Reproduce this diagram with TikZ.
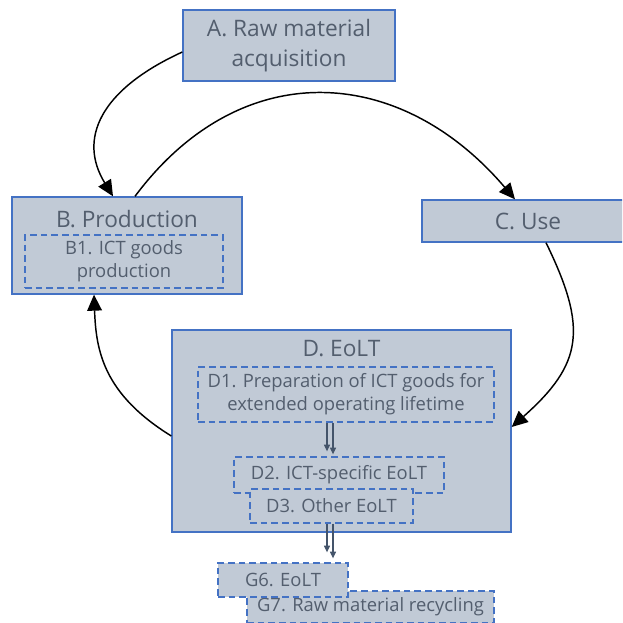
\documentclass[tikz,border=0pt]{standalone}
\usepackage{fontspec}
\setmainfont{Open Sans}
\usepackage{xcolor}
\definecolor{boxfill}{HTML}{C1CAD6}
\definecolor{boxline}{HTML}{4472C4}
\definecolor{txtgray}{HTML}{535E6E}
\definecolor{slate}{HTML}{44546A}
\usepackage{tikz}
\usetikzlibrary{arrows.meta, calc}
\tikzset{
    stage/.style = {rectangle, draw=boxline, fill=boxfill, line width=1pt,
                    inner sep=0pt, text=txtgray, align=center,
                    font=\fontsize{17}{22.5}\selectfont},
    substage/.style = {rectangle, draw=boxline, fill=boxfill, line width=1pt,
                       dash pattern=on 5pt off 3pt, inner sep=0pt, text=txtgray,
                       align=center, font=\fontsize{13.8}{17.5}\selectfont},
    heading/.style = {inner sep=0pt, text=txtgray,
                      font=\fontsize{17}{22.5}\selectfont},
    arrow/.style = {-{Triangle[length=12pt, width=11pt]}, line width=1.1pt, black},
    subarrow/.style = {-{Triangle[length=5pt, width=4.5pt]}, line width=0.8pt, color=slate},
}

\begin{document}
\begin{tikzpicture}[x=0.75pt, y=-0.75pt]
    \useasboundingbox (0,0) rectangle (622,623);
    \clip (0,0) rectangle (622,623);
    % Main stages
    \node[stage, minimum width=159pt, minimum height=53.25pt] (A) at (289,45.5)
          {A. Raw material\\acquisition};
    \node[stage, minimum width=172.5pt, minimum height=72.75pt] (B) at (127,245.5) {};
    \node[heading] (Btitle) at (127,219) {B. Production};
    \node[substage, minimum width=148.5pt, minimum height=39.75pt] (B1) at (124,261.5)
          {B1. ICT goods\\production};
    \node[stage, minimum width=159pt, minimum height=31.5pt] (C) at (528,221) {C. Use};
    \node[stage, minimum width=254.25pt, minimum height=151.5pt] (D) at (341.5,431) {};
    \node[heading] (Dtitle) at (341.5,349) {D. EoLT};
    % Sub-stages of D (D3 on top of D2)
    \node[substage, minimum width=222pt, minimum height=41.25pt] (D1) at (346,394.5)
          {D1. Preparation of ICT goods for\\extended operating lifetime};
    \node[substage, minimum width=157.5pt, minimum height=27pt] (D2) at (339,475)
          {D2. ICT-specific EoLT};
    \node[substage, minimum width=122.25pt, minimum height=25.5pt] (D3) at (331.5,506)
          {D3. Other EoLT};
    % Outside the cycle (G6 on top of G7)
    \node[substage, minimum width=185.25pt, minimum height=24pt] (G7) at (370.5,607)
          {G7. Raw material recycling};
    \node[substage, minimum width=97.5pt, minimum height=25.5pt] (G6) at (283,580)
          {G6. EoLT};
    % Cycle arrows
    \draw[arrow] ($(A.west)+(0,6.5)$) .. controls +(-83,38) and +(-35,-57)
          .. ($(B.north)+(-14,0)$);
    \draw[arrow] ($(B.north)+(8,0)$) .. controls +(106,-142) and +(-115,-135)
          .. ($(C.north)+(-13,0)$);
    \draw[arrow] ($(C.south)+(18,0)$) .. controls +(42,86) and +(71,-63)
          .. ($(D.east)+(0,-4)$);
    \draw[arrow] ($(D.west)+(0,5)$) .. controls +(-68,-42) and +(2,56)
          .. ($(B.south)+(-33,0)$);
    % Flows between sub-stages
    \draw[subarrow] ($(D1.south)+(-19,0)$) -- ($(D2.north)+(-12,-5)$);
    \draw[subarrow] ($(D1.south)+(-13,0)$) -- ($(D2.north)+(-6,-2)$);
    \draw[subarrow] ($(D3.south)+(-4.5,0)$) -- ($(G6.north)+(44,-10)$);
    \draw[subarrow] ($(D3.south)+(1.5,0)$) -- ($(G6.north)+(50,-4)$);
\end{tikzpicture}
\end{document}
